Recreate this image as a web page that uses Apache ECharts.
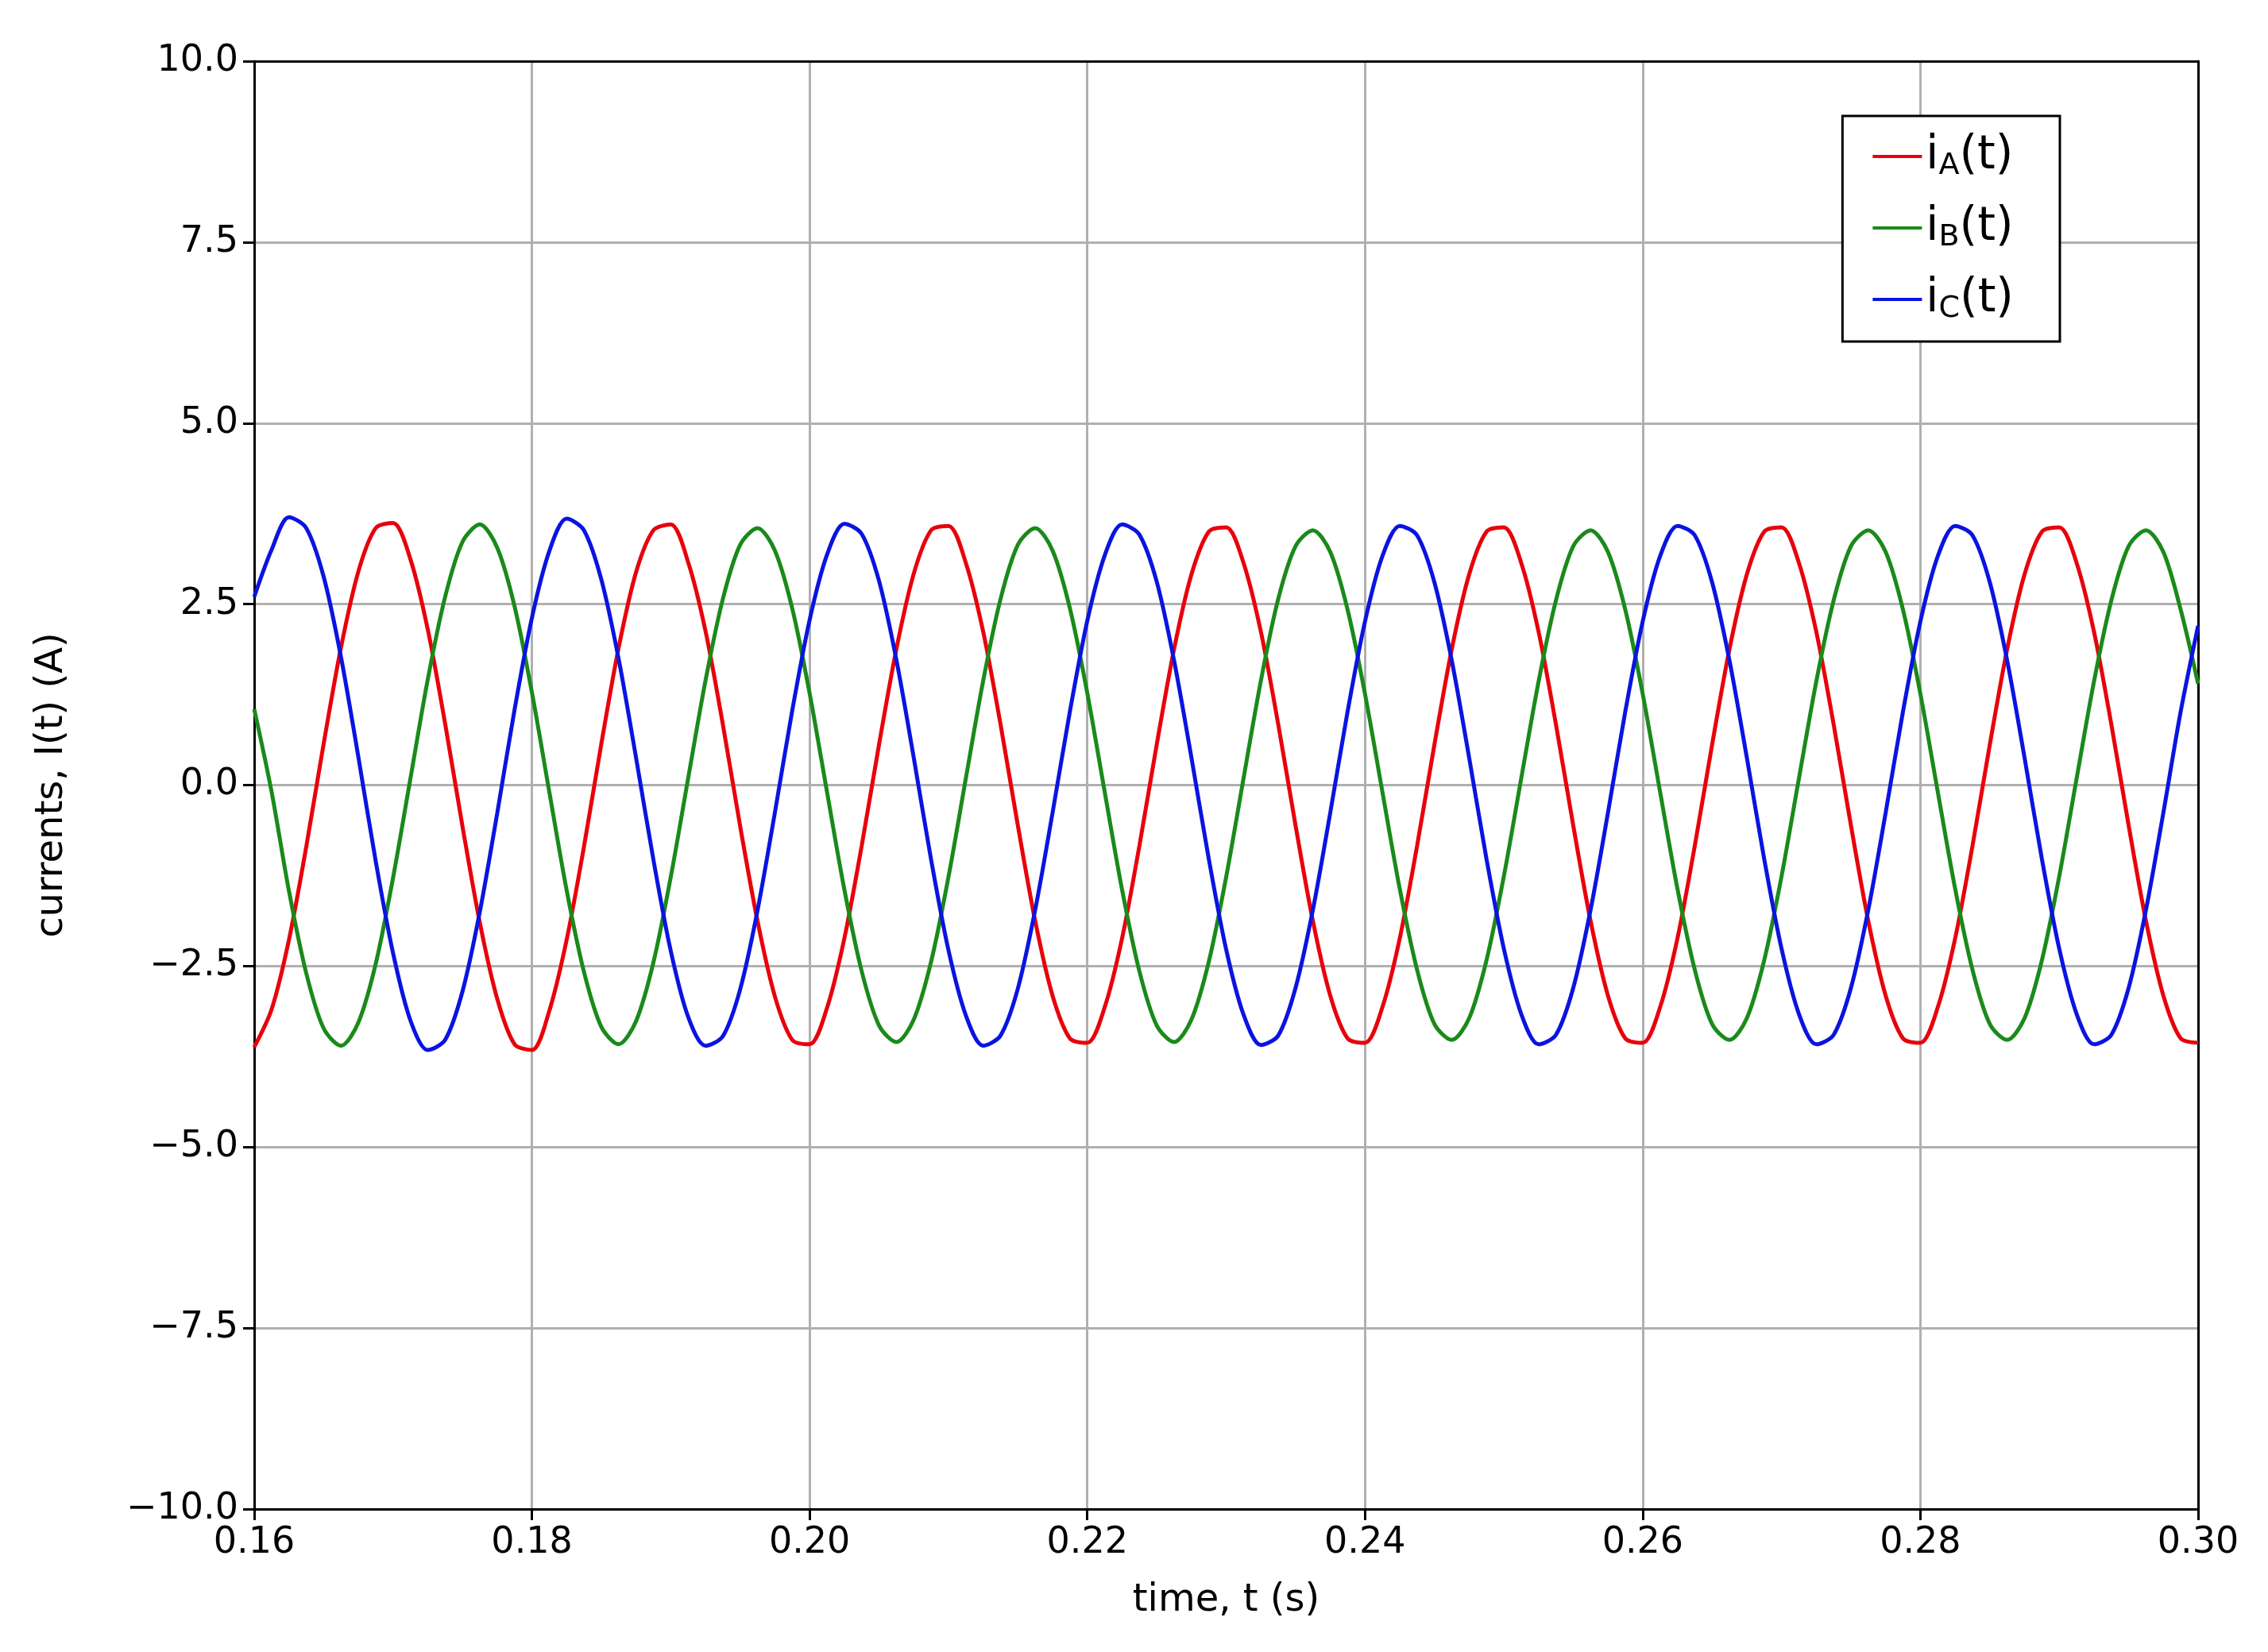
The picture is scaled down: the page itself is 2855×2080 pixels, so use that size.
<!DOCTYPE html>
<html lang="en">
<head>
<meta charset="UTF-8" />
<title>currents</title>
<style>
  * { padding: 0; margin: 0; }
  html, body { width: 100%; height: 100%; background: #fff; }
  #main { width: 2855px; height: 2080px; }
</style>
</head>
<body>
<div id="main"></div>
<script src="https://cdn.jsdelivr.net/npm/echarts@6/dist/echarts.min.js"></script>
<script>
// sample step 0.00125 s, from 0.16 to 0.30
var tStart = 0.16;
var tStep = 0.00125;

// one period (16 samples), repeated over 7 periods
var iA = [
  -3.62, -3.10, -2.14, -0.85, 0.57, 1.90, 2.95, 3.55, 3.62, 3.12, 2.15, 0.85, -0.57, -1.90, -2.95, -3.58,
  -3.66, -3.12, -2.14, -0.85, 0.57, 1.90, 2.94, 3.52, 3.60, 3.08, 2.13, 0.84, -0.57, -1.88, -2.92, -3.52,
  -3.58, -3.08, -2.12, -0.84, 0.56, 1.88, 2.92, 3.52, 3.58, 3.07, 2.12, 0.84, -0.56, -1.88, -2.91, -3.50,
  -3.56, -3.07, -2.12, -0.84, 0.56, 1.88, 2.91, 3.50, 3.56, 3.07, 2.12, 0.84, -0.56, -1.88, -2.91, -3.50,
  -3.56, -3.07, -2.12, -0.84, 0.56, 1.88, 2.91, 3.50, 3.56, 3.07, 2.12, 0.84, -0.56, -1.88, -2.91, -3.50,
  -3.56, -3.07, -2.12, -0.84, 0.56, 1.88, 2.91, 3.50, 3.56, 3.07, 2.12, 0.84, -0.56, -1.88, -2.91, -3.50,
  -3.56, -3.07, -2.12, -0.84, 0.56, 1.88, 2.91, 3.50, 3.56, 3.07, 2.12, 0.84, -0.56, -1.88, -2.91, -3.50,
  -3.56
];
var iB = [
  1.05, -0.09, -1.46, -2.60, -3.36, -3.60, -3.28, -2.47, -1.28, 0.09, 1.46, 2.60, 3.36, 3.60, 3.28, 2.47,
  1.28, -0.09, -1.45, -2.58, -3.34, -3.58, -3.26, -2.45, -1.27, 0.09, 1.44, 2.57, 3.32, 3.55, 3.24, 2.44,
  1.27, -0.09, -1.44, -2.57, -3.32, -3.55, -3.24, -2.44, -1.27, 0.09, 1.44, 2.57, 3.32, 3.55, 3.24, 2.44,
  1.27, -0.09, -1.44, -2.57, -3.32, -3.55, -3.24, -2.44, -1.27, 0.09, 1.44, 2.57, 3.30, 3.52, 3.22, 2.42,
  1.26, -0.09, -1.43, -2.55, -3.30, -3.52, -3.22, -2.42, -1.26, 0.09, 1.43, 2.55, 3.30, 3.52, 3.22, 2.42,
  1.26, -0.09, -1.43, -2.55, -3.30, -3.52, -3.22, -2.42, -1.26, 0.09, 1.43, 2.55, 3.30, 3.52, 3.22, 2.42,
  1.26, -0.09, -1.43, -2.55, -3.30, -3.52, -3.22, -2.42, -1.26, 0.09, 1.43, 2.55, 3.30, 3.52, 3.22, 2.42,
  1.40
];
var iC = [
  2.60, 3.25, 3.70, 3.55, 2.88, 1.77, 0.39, -1.05, -2.32, -3.25, -3.66, -3.52, -2.85, -1.75, -0.39, 1.04,
  2.31, 3.23, 3.68, 3.52, 2.84, 1.74, 0.38, -1.03, -2.29, -3.20, -3.60, -3.47, -2.82, -1.73, -0.38, 1.03,
  2.28, 3.18, 3.61, 3.47, 2.82, 1.73, 0.38, -1.03, -2.28, -3.18, -3.60, -3.46, -2.81, -1.72, -0.38, 1.02,
  2.27, 3.17, 3.60, 3.46, 2.81, 1.72, 0.38, -1.02, -2.27, -3.17, -3.59, -3.46, -2.80, -1.72, -0.38, 1.02,
  2.26, 3.16, 3.58, 3.45, 2.80, 1.72, 0.38, -1.02, -2.26, -3.16, -3.58, -3.45, -2.80, -1.72, -0.38, 1.02,
  2.26, 3.16, 3.58, 3.45, 2.80, 1.72, 0.38, -1.02, -2.26, -3.16, -3.58, -3.45, -2.80, -1.72, -0.38, 1.02,
  2.26, 3.16, 3.58, 3.45, 2.80, 1.72, 0.38, -1.02, -2.26, -3.16, -3.58, -3.45, -2.80, -1.72, -0.38, 1.02,
  2.20
];
var seriesNames = ['iA', 'iB', 'iC'];
var seriesSubs = ['A', 'B', 'C'];
var seriesColors = ['#e8000b', '#1a8a1a', '#0a14e0'];

function pairs(vals) {
  return vals.map(function (v, i) { return [+(tStart + i * tStep).toFixed(5), v]; });
}
function minus(s) { return s.replace('-', '\u2212'); }

var myChart = echarts.init(document.getElementById('main'));
var font = 'DejaVu Sans';
var series = [iA, iB, iC].map(function (vals, k) {
  return {
    name: seriesNames[k],
    type: 'line',
    data: pairs(vals),
    smooth: 0.3,
    showSymbol: false,
    z: 3,
    lineStyle: { color: seriesColors[k], width: 5 },
    itemStyle: { color: seriesColors[k] }
  };
});

var tick = { inside: false, length: 14, lineStyle: { color: '#000', width: 3 } };
var blackLine = { onZero: false, lineStyle: { color: '#000', width: 3 } };

var option = {
  backgroundColor: '#fff',
  animation: false,
  grid: { left: 320, right: 88, top: 77, bottom: 180 },
  legend: {
    right: 262, top: 146,
    orient: 'vertical',
    backgroundColor: '#fff',
    borderColor: '#000', borderWidth: 3, borderRadius: 0,
    padding: [22, 58, 22, 38],
    itemGap: 30, itemWidth: 62, itemHeight: 4,
    icon: 'rect',
    formatter: function (name) {
      return '{m|i}{s|' + seriesSubs[seriesNames.indexOf(name)] + '}{m|(t)}';
    },
    textStyle: {
      fontFamily: font,
      rich: {
        m: { fontSize: 58, fontFamily: font, color: '#000' },
        s: { fontSize: 38, fontFamily: font, color: '#000', padding: [24, 0, 0, 0] }
      }
    },
    data: seriesNames
  },
  xAxis: [{
    type: 'value', min: 0.16, max: 0.30, interval: 0.02,
    name: 'time, t (s)', nameLocation: 'middle', nameGap: 92,
    nameTextStyle: { fontFamily: font, fontSize: 48, color: '#000' },
    axisLine: blackLine,
    axisTick: tick,
    axisLabel: { fontFamily: font, fontSize: 46, color: '#000', margin: 20, formatter: function (v) { return v.toFixed(2); } },
    splitLine: { lineStyle: { color: '#b0b0b0', width: 3 } }
  }, {
    type: 'value', min: 0.16, max: 0.30, position: 'top',
    axisLine: blackLine, axisTick: { show: false }, axisLabel: { show: false }, splitLine: { show: false }
  }],
  yAxis: [{
    type: 'value', min: -10, max: 10, interval: 2.5,
    name: 'currents, I(t) (A)', nameLocation: 'middle', nameGap: 230,
    nameTextStyle: { fontFamily: font, fontSize: 48, color: '#000' },
    axisLine: blackLine,
    axisTick: tick,
    axisLabel: { fontFamily: font, fontSize: 46, color: '#000', margin: 20, formatter: function (v) { return minus(v.toFixed(1)); } },
    splitLine: { lineStyle: { color: '#b0b0b0', width: 3 } }
  }, {
    type: 'value', min: -10, max: 10, position: 'right',
    axisLine: blackLine, axisTick: { show: false }, axisLabel: { show: false }, splitLine: { show: false }
  }],
  series: series
};
myChart.setOption(option);
</script>
</body>
</html>
